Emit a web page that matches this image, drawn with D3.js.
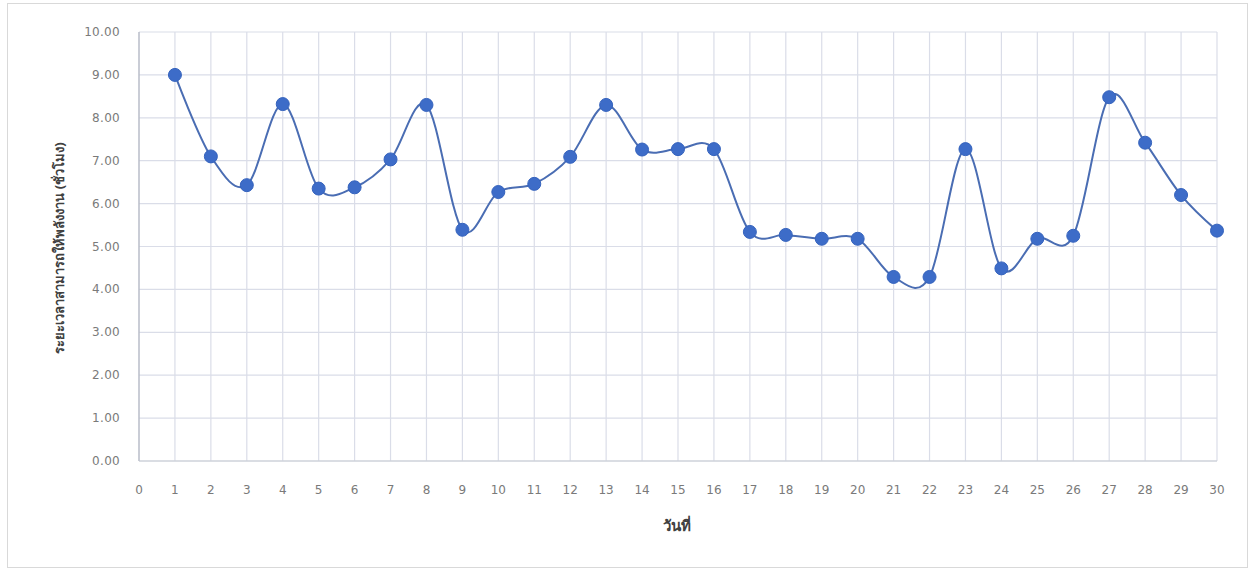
<!DOCTYPE html>
<html><head><meta charset="utf-8">
<script src="https://cdn.jsdelivr.net/npm/d3@7/dist/d3.min.js"></script>
<style>body{margin:0;background:#fff}svg{display:block}</style>
</head><body>
<svg id="c" width="1254" height="571"></svg>
<script>
const days = d3.range(1, 31);
const hours = [9.0,7.1,6.43,8.32,6.35,6.38,7.03,8.3,5.39,6.27,6.46,7.09,8.3,7.26,7.27,7.27,5.34,5.27,5.18,5.18,4.29,4.29,7.27,4.49,5.18,5.25,8.48,7.42,6.2,5.37];
const yTicks = d3.range(0, 11);
const xTicks = d3.range(0, 31);
const yLabel = "ระยะเวลาสามารถให้พลังงาน (ชั่วโมง)";
const xLabel = "วันที่";

const svg = d3.select("#c");
const font = "'DejaVu Sans',sans-serif";
svg.append("rect").attr("x",7.5).attr("y",3.5).attr("width",1240).attr("height",564)
  .attr("fill","#fff").attr("stroke","#d9d9d9");

const x = d3.scaleLinear().domain([0,30]).range([139,1217]);
const y = d3.scaleLinear().domain([0,10]).range([461,32]);

const g = svg.append("g");
// grid
g.selectAll(".hg").data(yTicks).join("line")
  .attr("x1",x(0)).attr("x2",x(30)).attr("y1",d=>y(d)).attr("y2",d=>y(d))
  .attr("stroke","#dadde8").attr("stroke-width",1.2);
g.selectAll(".vg").data(xTicks.slice(1)).join("line")
  .attr("x1",d=>x(d)).attr("x2",d=>x(d)).attr("y1",y(0)).attr("y2",y(10))
  .attr("stroke","#dadde8").attr("stroke-width",1.2);
// axis lines
g.append("line").attr("x1",x(0)).attr("x2",x(0)).attr("y1",y(0)).attr("y2",y(10))
  .attr("stroke","#b8bcc8").attr("stroke-width",1.5);
g.append("line").attr("x1",x(0)).attr("x2",x(30)).attr("y1",y(0)).attr("y2",y(0))
  .attr("stroke","#c8cbd4").attr("stroke-width",1.2);

// tick labels
g.selectAll(".yt").data(yTicks).join("text")
  .attr("x",120).attr("y",d=>y(d)+4).attr("text-anchor","end")
  .attr("font-family",font).attr("font-size",12).attr("letter-spacing",0.3).attr("fill","#7a7a7a")
  .text(d=>d3.format(".2f")(d));
g.selectAll(".xt").data(xTicks).join("text")
  .attr("x",d=>x(d)).attr("y",494).attr("text-anchor","middle")
  .attr("font-family",font).attr("font-size",12).attr("fill","#7a7a7a")
  .text(d=>d);

// axis titles
svg.append("text").attr("transform","translate(64,248) rotate(-90)")
  .attr("text-anchor","middle").attr("font-family","'Noto Sans','DejaVu Sans',sans-serif")
  .attr("font-size",13).attr("font-weight","bold").attr("fill","#404040").text(yLabel);
svg.append("text").attr("x",677).attr("y",531).attr("text-anchor","middle")
  .attr("font-family","'Noto Sans','DejaVu Sans',sans-serif")
  .attr("font-size",15).attr("font-weight","bold").attr("fill","#404040").text(xLabel);

// line
const line = d3.line().x((d,i)=>x(days[i])).y(d=>y(d)).curve(d3.curveCardinal.tension(0));
g.append("path").datum(hours).attr("d",line).attr("fill","none")
  .attr("stroke","#4a6db3").attr("stroke-width",2);
g.selectAll(".pt").data(hours).join("circle")
  .attr("cx",(d,i)=>x(days[i])).attr("cy",d=>y(d)).attr("r",6.5)
  .attr("fill","#3d6cc8").attr("stroke","#3563bd").attr("stroke-width",1);
</script>
</body></html>
